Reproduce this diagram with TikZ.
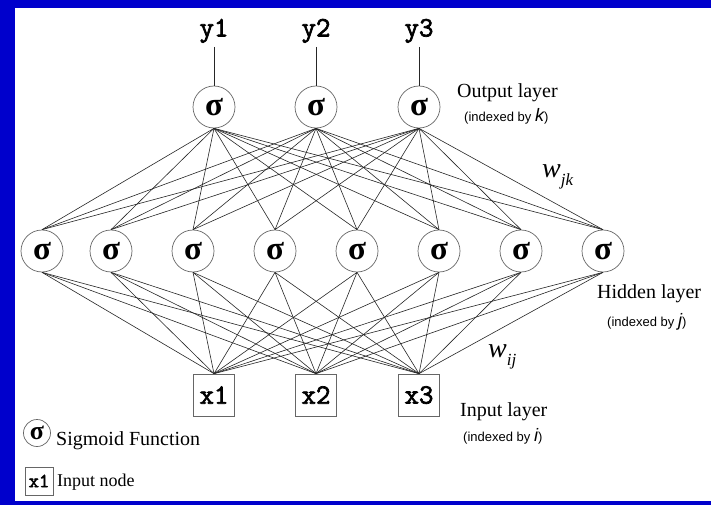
\documentclass[tikz,border=0pt]{standalone}
\usepackage{fontspec}
\setmainfont{Liberation Serif}
\newfontfamily\codefont[FakeBold=2.5]{Latin Modern Mono}
\newfontfamily\helvfont{Liberation Sans}
\usepackage{xcolor}
\definecolor{slideblue}{RGB}{0,0,204}
\usepackage{tikz}
\newcommand{\sigmoid}{\textbf{σ}}
\newcommand{\indexedby}[1]{{\helvfont\fontsize{13}{13}\selectfont(indexed by }{\helvfont\fontsize{18}{18}\selectfont\itshape #1}{\helvfont\fontsize{13}{13}\selectfont)}}
\newcommand{\weightname}[1]{\textit{w}\raisebox{-8pt}{\fontsize{17}{17}\selectfont\textit{#1}}}
\tikzset{
    unit/.style={draw=black!60, fill=white, inner sep=0pt, line width=0.7pt},
    neuron/.style={unit, circle, minimum size=42pt, font=\fontsize{33}{33}\selectfont},
    inputbox/.style={unit, rectangle, minimum width=41pt, minimum height=42pt, font=\codefont\fontsize{28}{28}\selectfont},
    outname/.style={anchor=south, inner sep=4pt, font=\codefont\fontsize{28}{28}\selectfont},
    layername/.style={anchor=base west, inner sep=0pt, font=\fontsize{20}{20}\selectfont},
    layerindex/.style={anchor=base west, inner sep=0pt},
    weightlabel/.style={anchor=base west, inner sep=0pt, font=\fontsize{28}{28}\selectfont},
    link/.style={black!85, line width=0.6pt},
}

\begin{document}
\begin{tikzpicture}[x=1pt, y=-1pt]
    % slide frame
    \fill[slideblue] (0,0) rectangle (711,505);
    \fill[white] (15,8) rectangle (711,501);
    \useasboundingbox (0,0) rectangle (711,505);

    % output layer
    \foreach \k/\x in {1/214, 2/316, 3/419} {
        \node[neuron] (out\k) at (\x,107) {\sigmoid};
        \node[outname] (y\k) at (\x,47) {y\k};
        \draw[link] (y\k) -- (out\k);
    }

    % hidden layer
    \foreach \j/\x in {1/42, 2/111, 3/193, 4/275, 5/357, 6/439, 7/521, 8/603}
        \node[neuron] (hid\j) at (\x,251) {\sigmoid};

    % input layer
    \foreach \i/\x in {1/214, 2/316, 3/419}
        \node[inputbox] (in\i) at (\x,395) {x\i};

    % weights, every unit to every unit of the next layer
    \foreach \k in {1,2,3}
        \foreach \j in {1,...,8}
            \draw[link] (out\k.south) -- (hid\j.north);
    \foreach \j in {1,...,8}
        \foreach \i in {1,2,3}
            \draw[link] (hid\j.south) -- (in\i.north);

    % labels
    \node[layername] (outtitle) at (457,98) {Output layer};
    \node[layerindex] (outidx) at (464,122) {\indexedby{k}};
    \node[weightlabel] (wjk) at (542,177) {\weightname{jk}};
    \node[layername] (hidtitle) at (597,298) {Hidden layer};
    \node[layerindex] (hididx) at (607,326) {\indexedby{j}};
    \node[weightlabel] (wij) at (488,357) {\weightname{ij}};
    \node[layername] (intitle) at (460,416) {Input layer};
    \node[layerindex] (inidx) at (463,441) {\indexedby{i}};

    % legend
    \node[unit, circle, minimum size=27pt, font=\fontsize{26}{26}\selectfont] (keysig) at (37,433) {\sigmoid};
    \node[layername] (keysigtext) at (56,445) {Sigmoid Function};
    \node[unit, rectangle, minimum width=28pt, minimum height=28pt, font=\codefont\fontsize{20}{20}\selectfont] (keyin) at (39,481) {x1};
    \node[layername, font=\fontsize{18}{18}\selectfont] (keyintext) at (57,486) {Input node};
\end{tikzpicture}
\end{document}
